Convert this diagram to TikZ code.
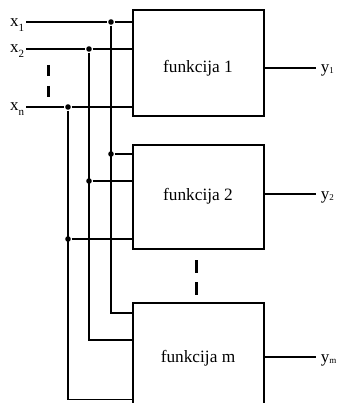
\documentclass[tikz,border=0pt]{standalone}
\usepackage{fontspec}
\setmainfont{Liberation Serif}
\newcommand\xsub[1]{\raisebox{-4.5pt}{\fontsize{11pt}{11pt}\selectfont #1}}
\newcommand\ysub[1]{\raisebox{-1.5pt}{\fontsize{9pt}{9pt}\selectfont #1}}
\begin{document}
\begin{tikzpicture}[x=1pt, y=-1pt, line width=1.8pt,
  fblock/.style={draw, rectangle, anchor=north west, inner sep=0pt, outer sep=0pt,
    minimum width=131pt},
  ftext/.style={anchor=base, font=\fontsize{17.3pt}{20pt}\selectfont},
  lbl/.style={font=\fontsize{17pt}{20pt}\selectfont, inner sep=0pt},
  dot/.style={circle, fill, inner sep=0pt, minimum size=5.6pt},
  gap/.style={line width=3pt}]
\useasboundingbox (0,0) rectangle (342,403);
\clip (0,0) rectangle (342,403);

% function blocks
\node[fblock, minimum height=106pt] (f1) at (133,10) {};
\node[fblock, minimum height=104pt] (f2) at (133,145) {};
\node[fblock, minimum height=120pt] (fm) at (133,303) {};
\node[ftext] (t1) at (198,73) {funkcija 1};
\node[ftext] (t2) at (198,200) {funkcija 2};
\node[ftext] (tm) at (198,362) {funkcija m};

% inputs
\coordinate (in1) at (26,22);
\coordinate (in2) at (26,49);
\coordinate (inn) at (26,107);
\node[lbl, anchor=base east] (lx1) at (25,27) {x\xsub{1}};
\node[lbl, anchor=base east] (lx2) at (25,53) {x\xsub{2}};
\node[lbl, anchor=base east] (lxn) at (25,111) {x\xsub{n}};

% junctions
\node[dot] (d11) at (111,22) {};
\node[dot] (d12) at (89,49) {};
\node[dot] (d1n) at (68,107) {};
\node[dot] (d21) at (111,154) {};
\node[dot] (d22) at (89,181) {};
\node[dot] (d2n) at (68,239) {};

% bus ends at the last block
\coordinate (b1) at (111,313);
\coordinate (b2) at (89,340);
\coordinate (bn) at (68,399.5);

% input lines into block 1
\draw (in1) -- (d11) -- (d11 -| f1.west);
\draw (in2) -- (d12) -- (d12 -| f1.west);
\draw (inn) -- (d1n) -- (d1n -| f1.west);

% buses
\draw (d11) -- (b1) -- (b1 -| fm.west);
\draw (d12) -- (b2) -- (b2 -| fm.west);
\draw (d1n) -- (bn) -- (bn -| fm.west);

% taps into block 2
\draw (d21) -- (d21 -| f2.west);
\draw (d22) -- (d22 -| f2.west);
\draw (d2n) -- (d2n -| f2.west);

% outputs
\coordinate (o1) at (316,68);
\coordinate (o2) at (316,194);
\coordinate (om) at (316,357);
\draw (o1 -| f1.east) -- (o1);
\draw (o2 -| f2.east) -- (o2);
\draw (om -| fm.east) -- (om);
\node[lbl, anchor=base west] (ly1) at (320,72.5) {y\ysub{1}};
\node[lbl, anchor=base west] (ly2) at (320,199) {y\ysub{2}};
\node[lbl, anchor=base west] (lym) at (320,362) {y\ysub{m}};

% ellipsis marks
\draw[gap] (48,65) -- (48,76);
\draw[gap] (48,86) -- (48,97);
\draw[gap] (196,260) -- (196,273);
\draw[gap] (196,282) -- (196,295);
\end{tikzpicture}
\end{document}
